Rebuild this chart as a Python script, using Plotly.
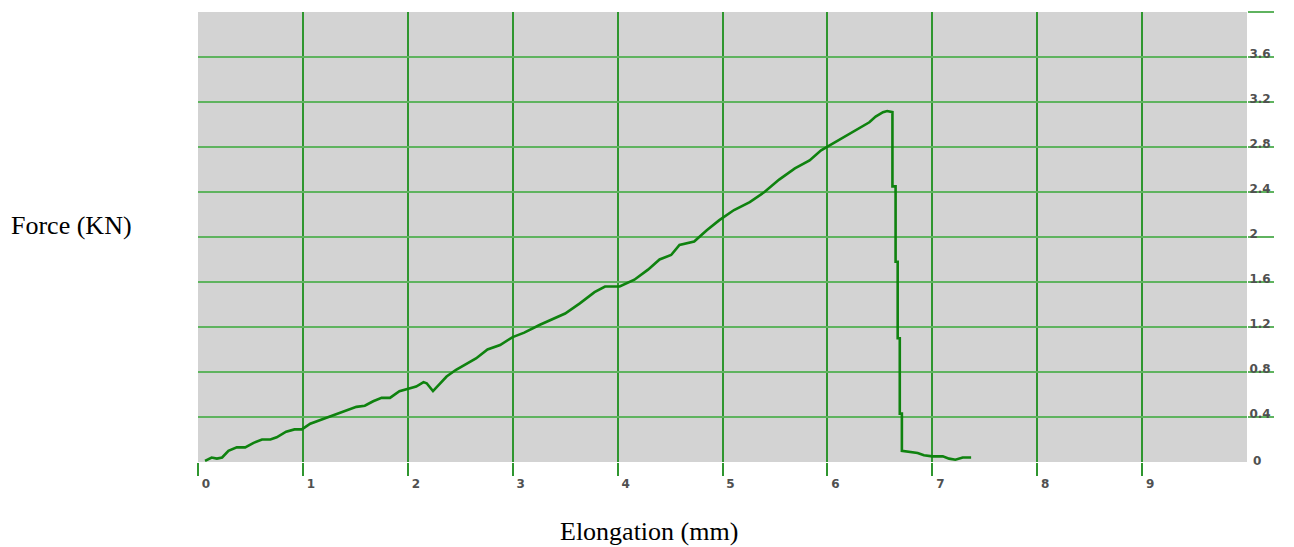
import plotly.graph_objects as go

# Elongation (mm) and Force (kN)
elongation = [0.067, 0.13, 0.18, 0.23, 0.29, 0.37, 0.45, 0.53, 0.61, 0.69, 0.75, 0.84, 0.92, 0.99,
              1.07, 1.19, 1.32, 1.42, 1.51, 1.59, 1.67, 1.75, 1.83, 1.92, 2.00, 2.08, 2.15, 2.18,
              2.24, 2.29, 2.37, 2.46, 2.56, 2.65, 2.76, 2.88, 3.00, 3.11, 3.26, 3.40, 3.50, 3.64,
              3.78, 3.88, 4.02, 4.16, 4.29, 4.40, 4.51, 4.59, 4.73, 4.85, 4.97, 5.11, 5.26, 5.40,
              5.54, 5.69, 5.83, 5.94, 6.07, 6.23, 6.32, 6.40, 6.46, 6.53, 6.57, 6.62,
              6.62, 6.65, 6.65, 6.67, 6.67, 6.69, 6.69, 6.71, 6.71,
              6.77, 6.86, 6.92, 7.00, 7.10, 7.16, 7.22, 7.29, 7.37]
force = [0.01, 0.04, 0.03, 0.04, 0.10, 0.13, 0.13, 0.17, 0.20, 0.20, 0.22, 0.27, 0.29, 0.29,
         0.34, 0.38, 0.42, 0.46, 0.49, 0.50, 0.54, 0.57, 0.57, 0.63, 0.65, 0.67, 0.71, 0.70,
         0.63, 0.68, 0.76, 0.82, 0.87, 0.92, 1.00, 1.04, 1.11, 1.15, 1.22, 1.28, 1.32, 1.41,
         1.51, 1.56, 1.56, 1.62, 1.71, 1.80, 1.84, 1.93, 1.96, 2.06, 2.15, 2.24, 2.31, 2.40,
         2.51, 2.61, 2.68, 2.77, 2.84, 2.93, 2.98, 3.02, 3.07, 3.11, 3.12, 3.11,
         2.45, 2.45, 1.78, 1.78, 1.10, 1.10, 0.43, 0.43, 0.10,
         0.09, 0.08, 0.06, 0.05, 0.05, 0.03, 0.02, 0.04, 0.04]

x_ticks = [0, 1, 2, 3, 4, 5, 6, 7, 8, 9]
y_ticks = [0.4, 0.8, 1.2, 1.6, 2.0, 2.4, 2.8, 3.2, 3.6, 4.0]
y_ticktext = ["0.4", "0.8", "1.2", "1.6", "2", "2.4", "2.8", "3.2", "3.6", ""]

x_title = "Elongation (mm)"
y_title = "Force (KN)"

tick_font = dict(family="DejaVu Sans", size=12, color="#505050", weight="bold")

fig = go.Figure()
fig.add_trace(go.Scatter(x=elongation, y=force, mode="lines",
                         line=dict(color="#0f820f", width=2.6),
                         showlegend=False, hoverinfo="skip"))

fig.update_layout(
    width=1294, height=547,
    margin=dict(l=198, r=47, t=12, b=85),
    paper_bgcolor="white", plot_bgcolor="#d3d3d3",
    xaxis=dict(range=[0, 10], tickvals=x_ticks, showgrid=True,
               gridcolor="#2f962f", gridwidth=2, zeroline=False, showline=False,
               ticks="outside", ticklen=13, tickwidth=2, tickcolor="#2f962f",
               tickfont=tick_font, ticklabelshift=8, ticklabelstandoff=-2),
    yaxis=dict(range=[0, 4], side="right", tickvals=y_ticks, ticktext=y_ticktext,
               showgrid=True, gridcolor="#5fb35f", gridwidth=1.5, zeroline=False,
               showline=False, ticks="outside", ticklen=26, tickwidth=1.5,
               tickcolor="#5fb35f", tickfont=tick_font,
               ticklabelstandoff=-27, ticklabelshift=-3),
    annotations=[
        dict(text="0", x=1.0, y=0, xref="paper", yref="y", xanchor="left", yanchor="middle",
             xshift=4, yshift=1, showarrow=False, font=tick_font),
        dict(text=y_title, x=71, y=225, xref="paper", yref="paper", showarrow=False,
             xanchor="center", yanchor="middle",
             font=dict(family="Liberation Serif", size=26, color="black")),
        dict(text=x_title, x=649, y=531, xref="paper", yref="paper", showarrow=False,
             xanchor="center", yanchor="middle",
             font=dict(family="Liberation Serif", size=26, color="black")),
    ],
)

# convert the pixel-placed title annotations to paper coordinates
pw, ph = 1294 - 198 - 47, 547 - 12 - 85
for a in fig.layout.annotations[1:]:
    a.x = (a.x - 198) / pw
    a.y = (547 - 85 - a.y) / ph

fig.write_html("out.html")
